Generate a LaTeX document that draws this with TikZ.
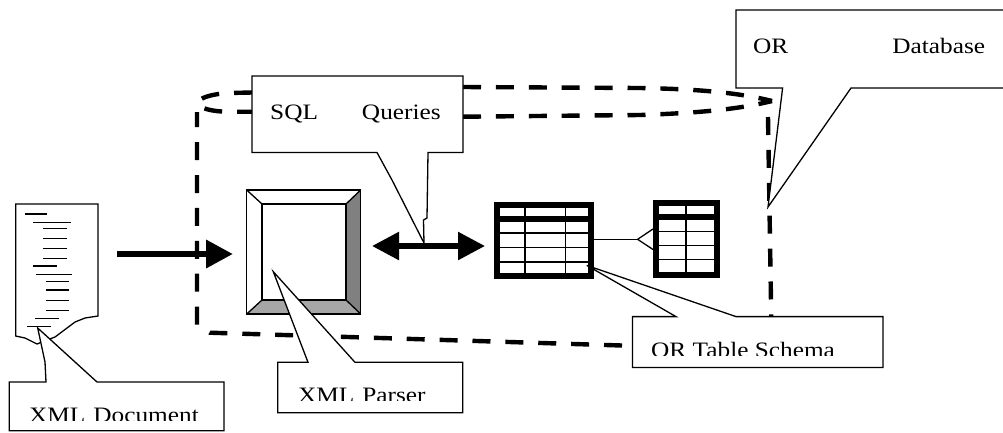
\documentclass[tikz,border=0pt]{standalone}
\usepackage{fontspec}
\setmainfont[FakeStretch=1.15]{Liberation Serif}
\usetikzlibrary{arrows.meta}

\tikzset{
	thin line/.style={line width=1.3pt, line join=miter},
	callout/.style={thin line, draw=black, fill=white},
	dash line/.style={line width=4.4pt, dash pattern=on 18pt off 14.9pt},
	thick arrow/.style={line width=5.5pt, {Triangle[length=27pt,width=27pt]}-{Triangle[length=27pt,width=27pt]}},
	in arrow/.style={line width=6.5pt, -{Triangle[length=27pt,width=27pt]}},
	label/.style={inner sep=0pt, anchor=base west, font=\fontsize{22}{24}\selectfont},
}

\begin{document}
\begin{tikzpicture}[x=1pt, y=-1pt]
	\useasboundingbox (0,0) rectangle (1003,432);
	
	% Dashed database outline
	\draw [dash line] (463,87) -- (640,88) .. controls (700,89) and (740,93) .. (772,101);
	\draw [dash line] (463,116.7) -- (640,115) .. controls (700,113) and (740,109) .. (772,101);
	\draw [dash line] (252,92.5) -- (228,93) .. controls (212,94) and (198,98) .. (198,103) .. controls (198,108) and (212,111.7) .. (228,111.7) -- (252,111.7);
	\draw [dash line] (768,117) -- (771.5,333) -- (771.5,345);
	\draw [dash line] (622,345.5) -- (210,332.7) -- (197,325) -- (197,112);
	
	% Document
	\draw [thin line, fill=white] (15.7,336) -- (15.7,204) -- (98,204) -- (98,316) -- (85,318) -- (75,322) -- (55,337) -- (37,344) -- (25,338) -- cycle;
	\foreach \xa/\xb/\ypos in {25/47/214, 33/71/222.3, 43/67/228.3, 43/67/238.3, 43/67/248.3, 43/67/258.3, 33/57/266, 36/72/274.3, 46/69/281.7, 46/69/290, 46/69/300.7, 46/69/310.7, 35/59/318.3, 27/51/326.7}
		\draw [thin line] (\xa,\ypos) -- (\xb,\ypos);
	
	% XML parser
	\fill [white] (246.7,190) rectangle (360.7,314);
	\fill [black!50] (360.7,190) -- (346,204) -- (346,300) -- (360.7,314) -- cycle;
	\fill [black!35] (246.7,314) -- (262,300) -- (346,300) -- (360.7,314) -- cycle;
	\draw [thin line] (246.7,190) rectangle (360.7,314);
	\draw [thin line] (262,204) rectangle (346,300);
	\foreach \xa/\ya/\xb/\yb in {246.7/190/262/204, 360.7/190/346/204, 246.7/314/262/300, 360.7/314/346/300}
		\draw [thin line] (\xa,\ya) -- (\xb,\yb);
	
	% OR tables
	\draw [line width=6pt] (496.5,205) rectangle (590.5,276);
	\fill (497,215.5) rectangle (590,221.5);
	\foreach \ypos in {233,247.5,262}
		\draw [thin line] (497,\ypos) -- (590,\ypos);
	\foreach \xpos in {525,565.4}
		\draw [thin line] (\xpos,205) -- (\xpos,276);
	
	\draw [line width=6pt] (655.5,202.5) rectangle (717,274.5);
	\fill (656,214) rectangle (717,220);
	\foreach \ypos in {231.5,245.4,259.7}
		\draw [thin line] (656,\ypos) -- (717,\ypos);
	\draw [thin line] (686,203) -- (686,274);
	
	% Named ends of the connectors
	\coordinate (docout) at (117,254);
	\coordinate (parserin) at (233,254);
	\coordinate (parserout) at (372,246);
	\coordinate (schemain) at (485,246);
	\coordinate (tableout) at (593,239.3);
	\coordinate (crow) at (637.6,239.3);
	\coordinate (crowtop) at (653,229);
	\coordinate (crowbottom) at (653,249.5);
	
	% Paths
	\draw [in arrow] (docout) -- (parserin);
	\draw [thick arrow] (parserout) -- (schemain);
	\draw [thin line] (tableout) -- (crow);
	\draw [thin line] (crowtop) -- (crow) -- (crowbottom);
	
	% Callouts
	\draw [callout] (252,76) -- (463,76) -- (463,152.5) -- (428,152.5) -- (427,218) -- (423.5,220) -- (424,243) -- (392,180) -- (377,152.5) -- (252,152.5) -- cycle;
	\draw [callout] (736,10) -- (1010,10) -- (1010,88) -- (851,88) -- (768,207) -- (782.6,88) -- (736,88) -- cycle;
	\draw [callout] (9.3,382) -- (46,382) -- (45,362) -- (37.7,328) -- (97,382) -- (224,382) -- (224,430.7) -- (9.3,430.7) -- cycle;
	\draw [callout] (277.7,362.3) -- (308,362.3) -- (273.3,271.7) -- (355,362.3) -- (462.7,362.3) -- (462.7,412.7) -- (277.7,412.7) -- cycle;
	\draw [callout] (632.5,316.6) -- (676,316.6) -- (586.8,265.4) -- (736,316.6) -- (883,316.6) -- (883,367.5) -- (632.5,367.5) -- cycle;
	
	% Labels, the lower three are cut off
	\node [label] (sqllabel) at (270,119) {SQL\hspace{44pt}Queries};
	\node [label] (dblabel) at (753,53) {OR\hspace{104pt}Database};
	\begin{scope}
		\clip (12,400) rectangle (222,420.5);
		\node [label] (doclabel) at (29,422.5) {XML\hspace{8pt}Document};
	\end{scope}
	\begin{scope}
		\clip (280,380) rectangle (460,400.5);
		\node [label] (parserlabel) at (298,402.5) {XML\hspace{8pt}Parser};
	\end{scope}
	\begin{scope}
		\clip (635,335) rectangle (880,355.5);
		\node [label] (schemalabel) at (651,357.5) {OR Table Schema};
	\end{scope}
\end{tikzpicture}
\end{document}
